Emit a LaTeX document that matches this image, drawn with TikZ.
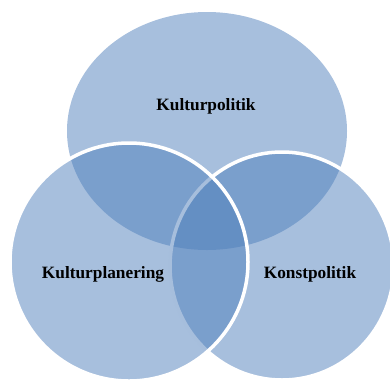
\documentclass[tikz,border=0pt]{standalone}
\usepackage{fontspec}
\setmainfont{Liberation Serif}
\usetikzlibrary{positioning}

\definecolor{vennblue}{RGB}{79,127,187}

\begin{document}
\begin{tikzpicture}[
    x=1pt, y=-1pt,
    set/.style={fill=vennblue, fill opacity=0.5},
    bordered/.style={set, draw=white, line width=3.5pt},
    set_label/.style={font=\fontsize{17.3}{20}\selectfont\bfseries, text=black, anchor=base}
]

% Canvas
\useasboundingbox (0,0) rectangle (390,381);
\clip (0,0) rectangle (390,381);

% Sets
\path[set] (207,131) ellipse [x radius=140, y radius=119];
\path[bordered] (282,266) ellipse [x radius=112, y radius=114];
\path[bordered] (129,262) ellipse [x radius=119, y radius=119];

% Labels
\node[set_label] (politik) at (206,110) {Kulturpolitik};
\node[set_label] (planering) at (103,278) {Kulturplanering};
\node[set_label] (konst) at (310,278) {Konstpolitik};

\end{tikzpicture}
\end{document}
